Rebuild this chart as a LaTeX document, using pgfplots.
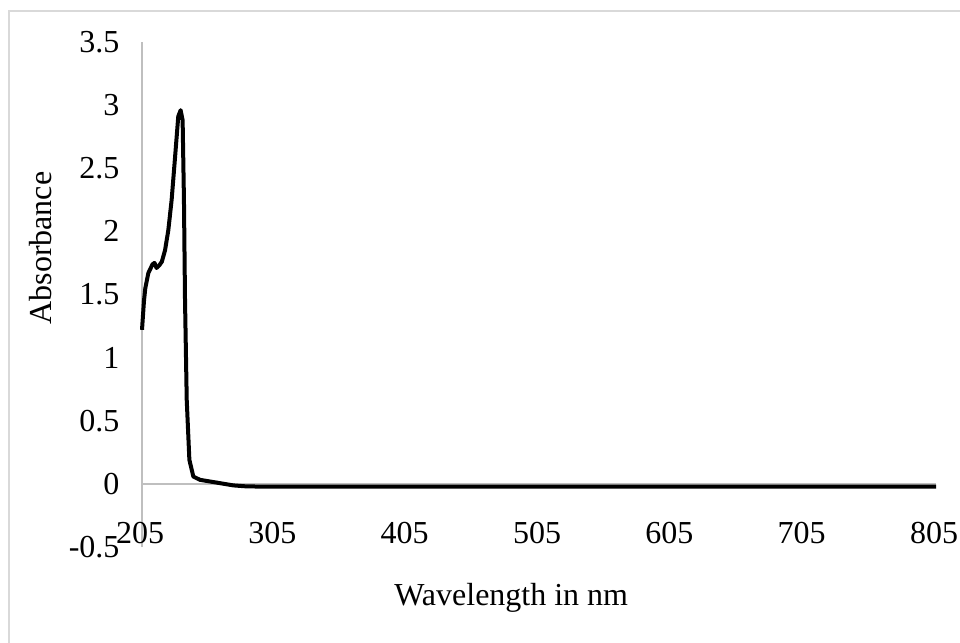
\documentclass[border=0pt]{standalone}
\usepackage{fontspec}
\setmainfont{Liberation Serif}
\usepackage{pgfplots}
\pgfplotsset{compat=1.18}
\begin{document}
\begin{tikzpicture}[x=1pt,y=1pt]
\useasboundingbox (0,0) rectangle (960,642);
\fill[white] (0,0) rectangle (960,642);
\draw[color=black!15, line width=1.5pt] (9,-5) -- (9,631) -- (970,631);
\begin{axis}[
  at={(142pt,95pt)}, anchor=south west,
  scale only axis, width=794pt, height=505pt,
  xmin=205, xmax=805, ymin=-0.5, ymax=3.5,
  axis x line=middle, axis y line=left,
  hide obscured x ticks=false, hide obscured y ticks=false,
  axis line style={draw=black!25, line width=1.5pt, -},
  major tick length=0pt,
  xtick={205,305,...,805},
  ytick={-0.5,0,0.5,...,3.5},
  /pgf/number format/assume math mode=true,
  ticklabel style={font=\fontsize{32}{36}\selectfont},
  xticklabel style={anchor=north, yshift=-35pt, xshift=-2pt},
  yticklabel style={anchor=east, xshift=-19pt},
  yticklabel={\pgfmathprintnumber[fixed, precision=1]{\tick}},
  xlabel={Wavelength in nm}, ylabel={Absorbance},
  label style={font=\fontsize{32}{36}\selectfont},
  xlabel style={at={(rel axis cs:0.465,-0.101)}, anchor=center},
  ylabel style={at={(rel axis cs:-0.128,0.592)}, anchor=center, rotate=0},
  clip=false,
]
\addplot[black, line width=4pt, line join=round] coordinates {
(205,1.22) (206.5,1.45) (207.5,1.55) (209.8,1.67) (213,1.74) (214.5,1.75) (216,1.71)
(218,1.73) (220,1.76) (222.4,1.85) (224.9,2.01) (227.4,2.25) (230,2.59)
(232.4,2.91) (234.2,2.96) (235.7,2.88) (236.7,2.25) (237.5,1.46) (238.8,0.665)
(240.8,0.19) (243.8,0.058) (248.8,0.032) (261.5,0.01) (274,-0.012) (284,-0.02)
(300,-0.022) (400,-0.022) (500,-0.022) (600,-0.022) (700,-0.022) (805,-0.022)
};
\end{axis}
\end{tikzpicture}
\end{document}
